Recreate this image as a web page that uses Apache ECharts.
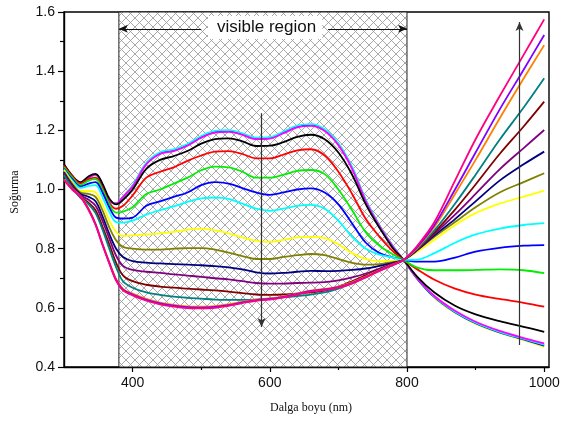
<!DOCTYPE html>
<html><head><meta charset="utf-8">
<script src="https://cdn.jsdelivr.net/npm/echarts@6/dist/echarts.min.js"></script>
<style>html,body{margin:0;padding:0;background:#fff}#c{width:563px;height:421px}</style>
</head><body><div id="c"></div>
<script>
// wavelengths (nm)
const WL = [300,312,324,336,346,356,366,376,386,400,420,440,460,480,500,520,540,560,580,600,620,640,660,680,700,720,740,760,780,795,815,840,870,900,935,970,1000];
// absorbance curves
const yellow2 = [1.083,1.045,1.022,1.04,1.05,1.015,.965,.952,.975, 1.013,1.088,1.125,1.135,1.152,1.179,1.196,1.199,1.189,1.173,1.175,1.194,1.214,1.219,1.202,1.155,1.075,.963,.877,.806,.762, .697,.634,.583,.546,.515,.491,.468];
const blue2   = [1.083,1.045,1.022,1.04,1.05,1.015,.965,.952,.975, 1.012,1.087,1.123,1.133,1.151,1.178,1.195,1.198,1.188,1.172,1.174,1.193,1.213,1.218,1.201,1.153,1.073,.962,.877,.806,.762, .698,.636,.585,.548,.517,.493,.472];
const cyan2   = [1.083,1.045,1.022,1.04,1.05,1.015,.965,.952,.975, 1.014,1.09,1.126,1.136,1.154,1.181,1.198,1.201,1.19,1.175,1.177,1.196,1.216,1.221,1.204,1.156,1.076,.965,.878,.807,.762, .70,.638,.587,.55,.519,.495,.476];
const magenta = [1.083,1.045,1.022,1.04,1.05,1.015,.965,.952,.975, 1.01,1.085,1.12,1.13,1.148,1.175,1.192,1.195,1.185,1.17,1.172,1.19,1.21,1.215,1.198,1.15,1.07,.96,.875,.805,.762, .70,.64,.59,.553,.522,.498,.48];
const black   = [1.085,1.047,1.025,1.045,1.053,1.02,.97,.95,.965, 1.0,1.07,1.10,1.113,1.13,1.155,1.17,1.173,1.163,1.147,1.148,1.16,1.178,1.185,1.17,1.125,1.05,.95,.87,.80,.762, .705,.652,.607,.578,.555,.536,.519];
const red     = [1.08,1.045,1.02,1.035,1.04,1.005,.955,.935,.945, .98,1.04,1.06,1.075,1.097,1.115,1.128,1.13,1.12,1.105,1.105,1.118,1.132,1.136,1.115,1.06,.985,.90,.84,.79,.762, .73,.695,.665,.645,.63,.617,.604];
const green   = [1.075,1.04,1.015,1.03,1.035,1.0,.95,.922,.925, .94,.985,1.0,1.02,1.04,1.065,1.077,1.075,1.06,1.04,1.04,1.05,1.063,1.066,1.052,1.0,.93,.855,.81,.78,.762, .736,.727,.727,.728,.73,.727,.717];
const blue    = [1.07,1.035,1.01,1.02,1.025,.99,.94,.905,.902, .905,.945,.96,.975,.99,1.015,1.025,1.02,1.005,.99,.982,.99,1.0,1.004,.99,.95,.885,.82,.785,.77,.762, .756,.756,.77,.79,.803,.81,.812];
const cyan    = [1.068,1.03,1.005,1.012,1.015,.975,.925,.89,.888, .895,.915,.93,.943,.958,.97,.973,.968,.952,.935,.928,.935,.945,.948,.935,.895,.84,.80,.78,.77,.762, .763,.785,.82,.848,.868,.88,.886];
const yellow  = [1.065,1.025,.995,.995,.99,.95,.895,.857,.843, .845,.848,.852,.857,.864,.868,.862,.852,.838,.826,.823,.83,.838,.84,.836,.815,.785,.765,.758,.759,.762, .79,.83,.88,.92,.952,.976,.996];
const olive   = [1.06,1.02,.99,.985,.975,.93,.872,.828,.806, .80,.797,.797,.80,.802,.802,.797,.787,.775,.765,.765,.772,.778,.782,.778,.765,.752,.746,.748,.755,.762, .795,.84,.89,.94,.99,1.025,1.055];
const navy    = [1.058,1.015,.985,.975,.96,.91,.85,.80,.772, .758,.753,.75,.748,.746,.744,.741,.737,.73,.72,.716,.718,.722,.725,.724,.725,.728,.733,.742,.752,.762, .795,.845,.90,.96,1.03,1.085,1.128];
const purple  = [1.055,1.012,.98,.965,.945,.895,.835,.776,.742, .728,.722,.718,.713,.709,.705,.70,.696,.69,.684,.682,.682,.684,.685,.687,.693,.703,.716,.733,.75,.762, .797,.85,.915,.985,1.068,1.14,1.201];
const wine    = [1.05,1.008,.975,.955,.93,.875,.815,.752,.71, .69,.678,.672,.668,.665,.662,.659,.655,.65,.645,.644,.645,.648,.652,.658,.672,.69,.71,.73,.748,.762, .799,.855,.932,1.017,1.12,1.213,1.297];
const teal    = [1.048,1.005,.972,.95,.92,.865,.80,.737,.69, .668,.652,.644,.638,.634,.631,.628,.627,.627,.628,.631,.635,.64,.645,.652,.665,.683,.705,.727,.746,.762, .80,.862,.952,1.05,1.168,1.277,1.376];
const orange  = [1.035,1.002,.978,.935,.885,.818,.755,.697,.664, .648,.63,.618,.61,.605,.604,.606,.612,.62,.628,.632,.639,.649,.658,.664,.672,.686,.706,.728,.747,.762, .803,.873,.985,1.10,1.24,1.375,1.488];
const violet  = [1.033,1.001,.976,.932,.882,.815,.752,.694,.661, .645,.627,.615,.607,.602,.601,.603,.609,.618,.626,.63,.637,.647,.657,.662,.67,.684,.704,.726,.746,.762, .806,.88,1.0,1.125,1.27,1.405,1.522];
const pink    = [1.032,1.0,.975,.93,.88,.813,.75,.692,.659, .642,.624,.612,.604,.599,.598,.60,.607,.616,.624,.628,.635,.645,.655,.66,.668,.682,.703,.725,.745,.762, .81,.89,1.03,1.17,1.315,1.455,1.575];

const CURVES = [
  ['yellow2', yellow2, '#ffff00'], ['blue2', blue2, '#0000ff'], ['cyan2', cyan2, '#00ffff'], ['magenta', magenta, '#ff00ff'],
  ['black', black, '#000000'], ['red', red, '#ff0000'], ['green', green, '#00ee00'], ['blue', blue, '#0000ff'],
  ['cyan', cyan, '#00ffff'], ['yellow', yellow, '#ffff00'], ['olive', olive, '#808000'], ['navy', navy, '#000080'],
  ['purple', purple, '#800080'], ['wine', wine, '#800000'], ['teal', teal, '#008080'], ['orange', orange, '#ff8000'],
  ['violet', violet, '#8000ff'], ['pink', pink, '#ff0080']
];
const X_TICKS_MAJOR = [400, 600, 800, 1000];
const X_TICKS_MINOR = [500, 700, 900];
const VISIBLE_REGION = [380, 800];
const ARROW_LEFT = [[500, 1.543], [380, 1.543]];
const ARROW_RIGHT = [[685, 1.543], [800, 1.543]];
const ARROW_DOWN = [[588, 1.258], [588, 0.535]];
const ARROW_UP = [[964, 0.474], [964, 1.566]];

const chart = echarts.init(document.getElementById('c'), null, {renderer: 'canvas'});

const P = 9;
const pc = document.createElement('canvas');
pc.width = P; pc.height = P;
const g = pc.getContext('2d');
g.fillStyle = '#fff'; g.fillRect(0, 0, P, P);
g.strokeStyle = '#9a9a9a'; g.lineWidth = 0.85;
g.beginPath();
g.moveTo(-1, -1); g.lineTo(P + 1, P + 1);
g.moveTo(P + 1, -1); g.lineTo(-1, P + 1);
g.stroke();

const lineSeries = CURVES.map(([name, vals, color], i) => ({
  name, type: 'line', xAxisIndex: 0, yAxisIndex: 0,
  data: WL.map((w, k) => [w, vals[k]]),
  showSymbol: false, smooth: 0.35, z: 3 + i * 0.01,
  lineStyle: {color, width: 1.8}, itemStyle: {color}, silent: true
}));

const arrowLine = (pair) => [{coord: pair[0]}, {coord: pair[1]}];

chart.setOption({
  animation: false,
  grid: {left: 64, right: 14, top: 12, bottom: 54, show: true, borderColor: '#000', borderWidth: 1.4, backgroundColor: 'transparent'},
  xAxis: [{
    type: 'value', min: 300, max: 1007,
    axisLine: {show: true, lineStyle: {color: '#000', width: 1.4}},
    axisTick: {show: true, customValues: X_TICKS_MAJOR, length: 5, lineStyle: {color: '#000', width: 1.2}},
    axisLabel: {show: true, customValues: X_TICKS_MAJOR, margin: 9, fontSize: 14, color: '#111',
                fontFamily: 'Liberation Sans, Arial', formatter: v => String(v)},
    splitLine: {show: false}
  }, {
    type: 'value', min: 300, max: 1007, position: 'bottom',
    axisLine: {show: false},
    axisTick: {show: true, customValues: X_TICKS_MINOR, length: 3, lineStyle: {color: '#000', width: 1.2}},
    axisLabel: {show: false},
    splitLine: {show: false}
  }],
  yAxis: [{
    type: 'value', min: 0.4, max: 1.6, interval: 0.2,
    axisLine: {show: true, lineStyle: {color: '#000', width: 1.4}},
    axisTick: {show: true, length: 6, lineStyle: {color: '#000', width: 1.2}},
    minorTick: {show: true, splitNumber: 2, length: 4, lineStyle: {color: '#000', width: 1.2}},
    axisLabel: {margin: 9, fontSize: 14, color: '#111', fontFamily: 'Liberation Sans, Arial', formatter: v => v.toFixed(1)},
    splitLine: {show: false}
  }],
  series: [
    {
      type: 'line', data: [], z: 1, silent: true,
      markArea: {
        silent: true,
        itemStyle: {color: {image: pc, repeat: 'repeat'}, borderColor: '#222', borderWidth: 1},
        data: [[{xAxis: VISIBLE_REGION[0]}, {xAxis: VISIBLE_REGION[1]}]]
      }
    },
    ...lineSeries,
    {
      type: 'line', data: [], z: 10, silent: true,
      markLine: {
        silent: true, symbol: ['none', 'arrow'], symbolSize: [6, 9],
        label: {show: false},
        lineStyle: {color: '#111', width: 1, type: 'solid'},
        data: [arrowLine(ARROW_LEFT), arrowLine(ARROW_RIGHT)]
      }
    },
    {
      type: 'line', data: [], z: 10, silent: true,
      markLine: {
        silent: true, symbol: ['none', 'arrow'], symbolSize: [6, 9],
        label: {show: false},
        lineStyle: {color: '#333', width: 1.2, type: 'solid'},
        data: [arrowLine(ARROW_DOWN), arrowLine(ARROW_UP)]
      }
    }
  ],
  graphic: [
    {type: 'text', left: 208, top: 16, z: 20,
     style: {text: 'visible region', font: '17px "Liberation Sans", Arial', fill: '#111',
             backgroundColor: '#fff', padding: [3, 6, 3, 9]}},
    {type: 'text', x: 15, y: 192, rotation: Math.PI / 2, z: 20,
     style: {text: 'Soğurma', font: '12px "Liberation Serif", "Times New Roman"', fill: '#111', align: 'center', verticalAlign: 'middle'}},
    {type: 'text', x: 311, y: 408, z: 20,
     style: {text: 'Dalga boyu (nm)', font: '12px "Liberation Serif", "Times New Roman"', fill: '#111', align: 'center', verticalAlign: 'middle'}}
  ]
});
</script>
</body></html>
